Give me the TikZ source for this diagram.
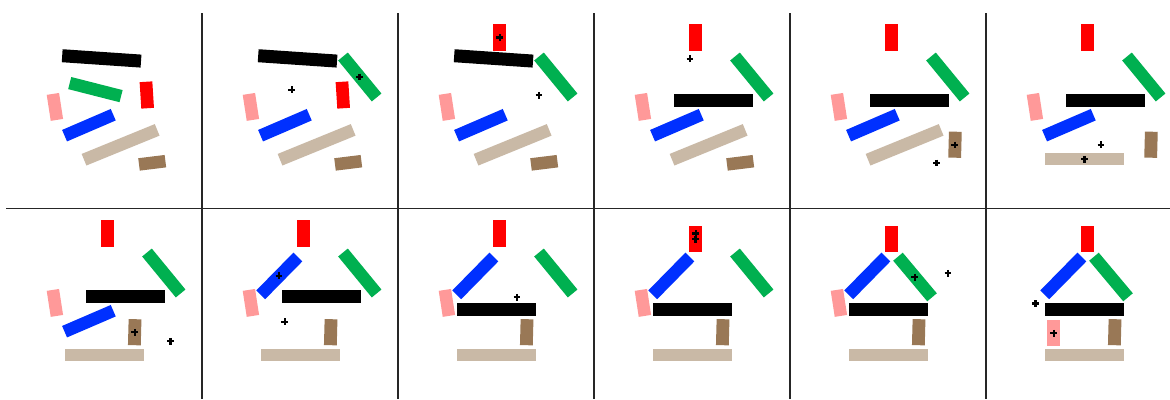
\documentclass[tikz,border=0pt]{standalone}
\usetikzlibrary{calc}
\definecolor{cgreen}{RGB}{0,176,80}
\definecolor{cred}{RGB}{255,0,0}
\definecolor{cpink}{RGB}{255,153,153}
\definecolor{cblue}{RGB}{0,48,255}
\definecolor{ctan}{RGB}{201,185,166}
\definecolor{cbrown}{RGB}{153,120,86}
\tikzset{
  gridline/.style={line width=1.2pt, black!85},
  crossmk/.style={line width=2.2pt, black},
}
% \brick{colour}{cx}{cy}{length}{thickness}{angle}
\newcommand{\brick}[6]{\fill[#1, shift={(#2,#3)}, rotate=#6] (-#4/2,-#5/2) rectangle (#4/2,#5/2);}
% \crossat{x}{y}
\newcommand{\crossat}[2]{\draw[crossmk, shift={(#1,#2)}] (-3.4,0) -- (3.4,0) (0,-3.4) -- (0,3.4);}
% pieces and their states
\newcommand{\KA}{\brick{black}{95.6}{45.4}{79}{13}{-3.9}}
\newcommand{\KB}{\brick{black}{119.3}{87.8}{79}{13}{0}}
\newcommand{\KC}{\brick{black}{98.3}{100.7}{79}{13}{0}}
\newcommand{\GA}{\brick{cgreen}{89.4}{76.6}{53}{12.5}{-14.3}}
\newcommand{\GB}{\brick{cgreen}{157.8}{64}{53}{12.5}{-50.6}}
\newcommand{\GC}{\brick{cgreen}{125}{68}{53}{12.5}{-50}}
\newcommand{\RA}{\brick{cred}{140.8}{82}{12.7}{26.5}{3.6}}
\newcommand{\RB}{\brick{cred}{101.8}{24.5}{12.7}{26.5}{0}}
\newcommand{\RC}{\brick{cred}{101.3}{30.2}{12.7}{26.5}{0}}
\newcommand{\PA}{\brick{cpink}{48.9}{93.9}{12.5}{26.3}{8.8}}
\newcommand{\PB}{\brick{cpink}{67.7}{124.2}{12.5}{26.3}{0}}
\newcommand{\BA}{\brick{cblue}{82.9}{112.2}{53}{12.5}{23.3}}
\newcommand{\BB}{\brick{cblue}{77.3}{66.9}{53}{12.5}{45.5}}
\newcommand{\TA}{\brick{ctan}{114.6}{131.8}{79}{12.5}{22.2}}
\newcommand{\TB}{\brick{ctan}{98.7}{146}{79}{12.5}{0}}
\newcommand{\WA}{\brick{cbrown}{146.2}{149.8}{26.6}{12.5}{7.1}}
\newcommand{\WB}{\brick{cbrown}{165}{131.7}{12.8}{26}{-1.5}}
\newcommand{\WC}{\brick{cbrown}{128.7}{123.2}{12.8}{26}{-1.5}}
\begin{document}
\begin{tikzpicture}[x=1pt,y=-1pt]
\useasboundingbox (0,0) rectangle (1170,399);
\fill[white] (0,0) rectangle (1170,399);
% grid
\foreach \gx in {202,398,594,790,986} { \draw[gridline] (\gx,13) -- (\gx,399); }
\draw[gridline] (6,208.5) -- (1170,208.5);
% panel 1
\begin{scope}[shift={(6,13)}]
  \KA \GA \RA \PA \BA \TA \WA
\end{scope}
% panel 2
\begin{scope}[shift={(202,13)}]
  \KA \GB \RA \PA \BA \TA \WA
  \crossat{157.5}{64} \crossat{89.6}{76.6}
\end{scope}
% panel 3
\begin{scope}[shift={(398,13)}]
  \KA \GB \RB \PA \BA \TA \WA
  \crossat{101.7}{24.5} \crossat{140.9}{82.2}
\end{scope}
% panel 4
\begin{scope}[shift={(594,13)}]
  \KB \GB \RB \PA \BA \TA \WA
  \crossat{96}{45.7}
\end{scope}
% panel 5
\begin{scope}[shift={(790,13)}]
  \KB \GB \RB \PA \BA \TA \WB
  \crossat{164.7}{132} \crossat{146.5}{150}
\end{scope}
% panel 6
\begin{scope}[shift={(986,13)}]
  \KB \GB \RB \PA \BA \TB \WB
  \crossat{98.5}{146.2} \crossat{115}{131.7}
\end{scope}
% panel 7
\begin{scope}[shift={(6,209)}]
  \KB \GB \RB \PA \BA \TB \WC
  \crossat{128.7}{123.3} \crossat{164.5}{132.2}
\end{scope}
% panel 8
\begin{scope}[shift={(202,209)}]
  \KB \GB \RB \PA \BB \TB \WC
  \crossat{76.9}{66.7} \crossat{82.7}{112.7}
\end{scope}
% panel 9
\begin{scope}[shift={(398,209)}]
  \KC \GB \RB \PA \BB \TB \WC
  \crossat{119}{88.3}
\end{scope}
% panel 10
\begin{scope}[shift={(594,209)}]
  \KC \GB \RC \PA \BB \TB \WC
  \crossat{101.8}{24.5} \crossat{101.5}{30.2}
\end{scope}
% panel 11
\begin{scope}[shift={(790,209)}]
  \KC \GC \RC \PA \BB \TB \WC
  \crossat{124.8}{68.2} \crossat{158}{64.2}
\end{scope}
% panel 12
\begin{scope}[shift={(986,209)}]
  \KC \GC \RC \PB \BB \TB \WC
  \crossat{67.7}{124.3} \crossat{49.5}{94.5}
\end{scope}
\end{tikzpicture}
\end{document}
